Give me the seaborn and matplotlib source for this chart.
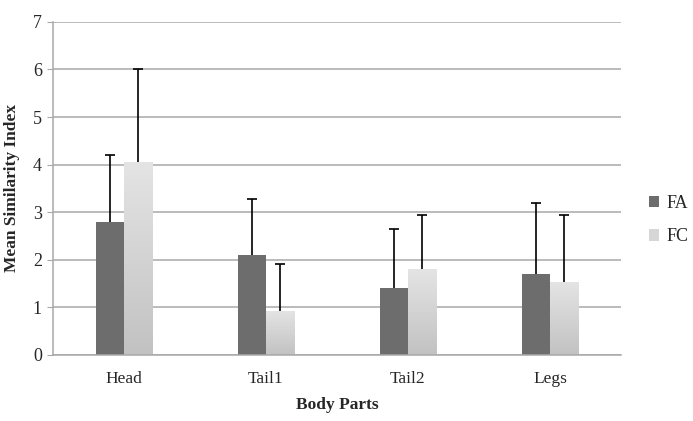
import numpy as np
import pandas as pd
import seaborn as sns
import matplotlib.pyplot as plt
from matplotlib.colors import LinearSegmentedColormap

# %%
parts = ["Head", "Tail1", "Tail2", "Legs"]
groups = ["FA", "FC"]
fa_mean = [2.8, 2.1, 1.4, 1.7]
fa_sd = [1.4, 1.17, 1.25, 1.5]
fc_mean = [4.05, 0.93, 1.8, 1.53]
fc_sd = [1.95, 0.98, 1.15, 1.42]

df = pd.DataFrame({
    "part": parts * 2,
    "group": ["FA"] * 4 + ["FC"] * 4,
    "mean": fa_mean + fc_mean,
    "sd": fa_sd + fc_sd,
})

# %%
sns.set_style("white")
plt.rcParams["font.family"] = ["Liberation Serif", "DejaVu Serif"]

fig = plt.figure(figsize=(6.93, 4.21), dpi=100)
ax = fig.add_axes([0.0765, 0.157, 0.8195, 0.791])

palette = {"FA": "#6d6d6d", "FC": "#d6d6d6"}
sns.barplot(data=df, x="part", y="mean", hue="group", hue_order=groups,
            order=parts, palette=palette, errorbar=None, width=0.4,
            saturation=1, linewidth=0, ax=ax, zorder=2)

# gradient fill on the FC bars
grad = LinearSegmentedColormap.from_list("fc", ["#c2c2c2", "#e4e4e4"])
for bar in ax.containers[1]:
    x0, y0 = bar.get_x(), bar.get_y()
    w, h = bar.get_width(), bar.get_height()
    img = ax.imshow(np.linspace(0, 1, 100).reshape(-1, 1), cmap=grad,
                    origin="lower", aspect="auto",
                    extent=[x0, x0 + w, y0, y0 + h], zorder=2.5)
    img.set_clip_path(bar)

# upper-only error bars
for cont, sub in zip(ax.containers, groups):
    d = df[df["group"] == sub].set_index("part").loc[parts]
    xs = [b.get_x() + b.get_width() / 2 for b in cont]
    eb = ax.errorbar(xs, d["mean"], yerr=[np.zeros(len(xs)), d["sd"]],
                     fmt="none", ecolor="black", elinewidth=1.2, capsize=3.5,
                     capthick=1.2, zorder=3)
    eb[1][0].set_visible(False)  # hide the cap sitting on the bar top

ax.set_xlim(-0.5, 3.5)
ax.set_ylim(0, 7)
ax.set_yticks(range(8))
ax.yaxis.grid(True, color="#a8a8a8", linewidth=1.1, zorder=0)
ax.set_axisbelow(True)
for s in ["top", "right"]:
    ax.spines[s].set_visible(False)
for s in ["left", "bottom"]:
    ax.spines[s].set_color("#a8a8a8")
    ax.spines[s].set_linewidth(1.1)
ax.tick_params(axis="y", left=True, length=4, color="#a8a8a8", labelsize=13, pad=4)
ax.tick_params(axis="x", bottom=False, labelsize=12.5, pad=8)

ax.set_xlabel("Body Parts", fontsize=12.5, fontweight="bold", labelpad=7)
ax.set_ylabel("Mean Similarity Index", fontsize=12.5, fontweight="bold", labelpad=9)

ax.legend(title=None, frameon=False, bbox_to_anchor=(1.02, 0.405), loc="center left",
          fontsize=13, handlelength=0.6, handleheight=0.6, handletextpad=0.4,
          labelspacing=0.9)

plt.savefig("out.png", dpi=100)
